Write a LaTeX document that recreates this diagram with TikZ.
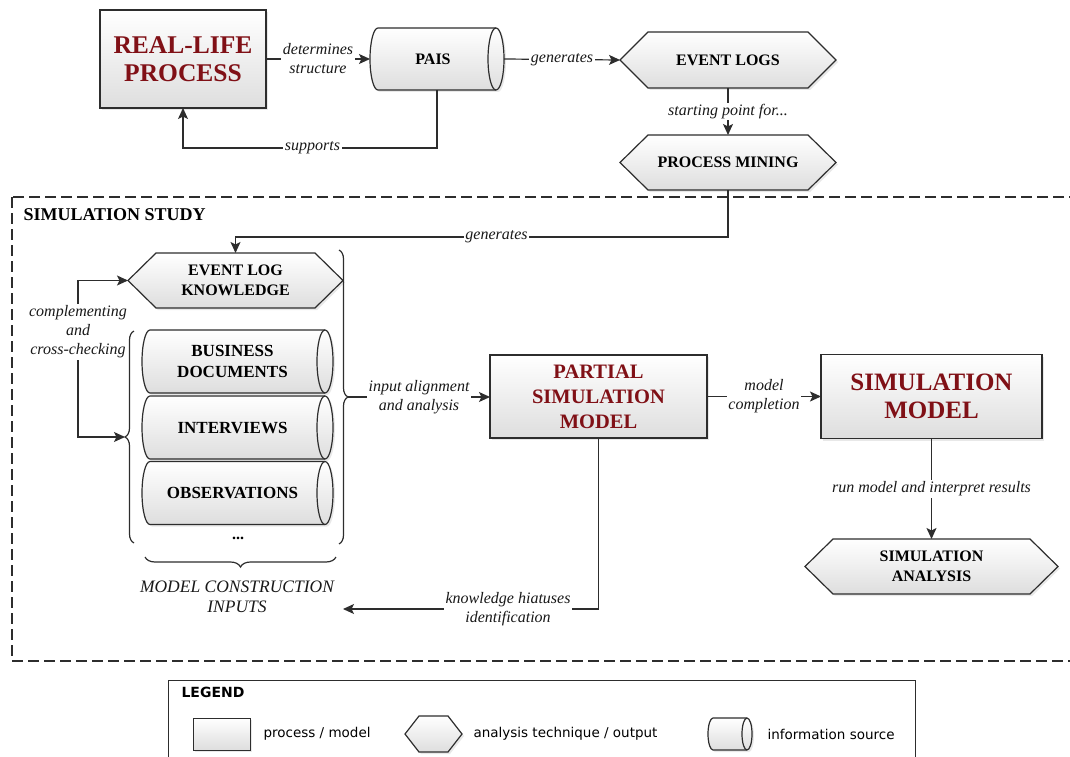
\documentclass[tikz,border=0pt]{standalone}
\usepackage{fontspec}
\setmainfont{Liberation Serif}
\newfontfamily\legendfont{DejaVu Sans}
\usetikzlibrary{arrows.meta,decorations.pathreplacing,shadows,backgrounds}
\definecolor{dred}{RGB}{128,16,22}
\definecolor{ln}{RGB}{45,45,45}
\tikzset{
 fillsh/.style={top color=white, bottom color=black!13, drop shadow={opacity=0.18, shadow xshift=2pt, shadow yshift=-2pt}},
 bx/.style={draw=ln, line width=1.2pt, fillsh, inner sep=0pt, outer sep=0pt, align=center},
 anch/.style={inner sep=0pt, outer sep=0pt, align=center},
 outl/.style={draw=ln, line width=1.2pt, fillsh},
 con/.style={draw=ln, line width=1.2pt},
 tip/.tip={Stealth[length=11pt,width=10pt,inset=2.5pt]},
 arr/.style={con, -tip},
 lbl/.style={fill=white, inner sep=1.5pt, align=center, text=black!90, font=\fontsize{16}{19}\selectfont\itshape},
 hexf/.style={font=\fontsize{16}{20}\selectfont\bfseries},
 cylf/.style={font=\fontsize{17}{21}\selectfont\bfseries},
 legt/.style={font=\legendfont\fontsize{13.5}{16}\selectfont, anchor=west},
}
\newcommand\hexpath[2]{\path[outl] (#1.west) -- ([xshift=#2]#1.north west) -- ([xshift=-#2]#1.north east) -- (#1.east) -- ([xshift=-#2]#1.south east) -- ([xshift=#2]#1.south west) -- cycle;}
\newcommand\cylpath[3]{\path[outl] ([xshift=#2]#1.north west) -- ([xshift=-#2]#1.north east) arc[start angle=90,end angle=-90,x radius=#2,y radius=#3] -- ([xshift=#2]#1.south west) arc[start angle=270,end angle=90,x radius=#2,y radius=#3] -- cycle;
 \draw[con] ([xshift=-#2]#1.north east) arc[start angle=90,end angle=270,x radius=#2,y radius=#3];}
\begin{document}
\begin{tikzpicture}[x=1pt,y=-1pt]
\useasboundingbox (0,0) rectangle (1070,757);
\clip (0,0) rectangle (1070,757);
% ---- nodes
\node[bx, minimum width=166pt, minimum height=98pt, text=dred, font=\fontsize{25.5}{28}\selectfont\bfseries] (rlp) at (183,59) {REAL-LIFE\\PROCESS};
\node[anch, minimum width=134pt, minimum height=62pt, font=\fontsize{16}{19}\selectfont\bfseries] (pais) at (437,59) {\hspace*{-8pt}PAIS};
\node[anch, hexf, minimum width=216pt, minimum height=56pt] (el) at (728,60) {EVENT LOGS};
\node[anch, hexf, minimum width=216pt, minimum height=55pt] (pm) at (728,162.5) {PROCESS MINING};
\node[anch, hexf, minimum width=215pt, minimum height=55pt] (elk) at (235.5,280.5) {EVENT LOG\\KNOWLEDGE};
\node[anch, cylf, minimum width=191pt, minimum height=63pt] (bd) at (237.5,361.5) {\hspace*{-10pt}BUSINESS\\\hspace*{-10pt}DOCUMENTS};
\node[anch, cylf, minimum width=191pt, minimum height=63pt] (iv) at (237.5,427.5) {\hspace*{-10pt}INTERVIEWS};
\node[anch, cylf, minimum width=191pt, minimum height=63pt] (ob) at (237.5,493) {\hspace*{-10pt}OBSERVATIONS};
\node[font=\fontsize{16}{19}\selectfont\bfseries] (dots) at (238,538) {...};
\node[font=\fontsize{17.5}{20}\selectfont\itshape, align=center, text=black!90] (mci) at (237,597) {MODEL CONSTRUCTION\\INPUTS};
\node[bx, minimum width=217pt, minimum height=83pt, text=dred, font=\fontsize{20.5}{25}\selectfont\bfseries] (psm) at (598.5,396.5) {PARTIAL\\SIMULATION\\MODEL};
\node[bx, minimum width=221pt, minimum height=84pt, text=dred, font=\fontsize{25}{28}\selectfont\bfseries] (sm) at (931.5,396.5) {SIMULATION\\MODEL};
\node[anch, hexf, minimum width=253pt, minimum height=55pt] (sa) at (931.5,566.5) {SIMULATION\\ANALYSIS};
% ---- legend
\draw[con, line width=1pt] (168,680) rectangle (915,790);
\node[font=\legendfont\fontsize{14}{16}\selectfont\bfseries, anchor=west] (legtitle) at (178,692) {LEGEND};
\node[bx, line width=1pt, minimum width=57pt, minimum height=32pt] (lrect) at (221.5,734) {};
\node[legt] (lt1) at (260,734) {process / model};
\node[anch, minimum width=57pt, minimum height=36pt] (lhex) at (433.5,734) {};
\node[legt] (lt2) at (470,734) {analysis technique / output};
\node[anch, minimum width=44pt, minimum height=32pt] (lcyl) at (730,734) {};
\node[legt] (lt3) at (764,734) {information source};
% ---- shape outlines
\begin{scope}[on background layer]
\cylpath{pais}{8pt}{31pt}
\hexpath{el}{28pt}
\hexpath{pm}{28pt}
\hexpath{elk}{28pt}
\cylpath{bd}{8pt}{31.5pt}
\cylpath{iv}{8pt}{31.5pt}
\cylpath{ob}{8pt}{31.5pt}
\hexpath{sa}{28pt}
\hexpath{lhex}{14pt}
\cylpath{lcyl}{5pt}{16pt}
\end{scope}
% ---- simulation study frame
\draw[con, dash pattern=on 11pt off 5pt] (12,197) rectangle (1090,661);
\node[font=\fontsize{18}{21}\selectfont\bfseries, anchor=west] (sst) at (20,215) {SIMULATION STUDY};
% ---- coordinates
\coordinate (rtip) at (348,397);
\coordinate (ltip) at (125,437);
\coordinate (kh) at (343,609);
% ---- connectors
\draw[arr] (rlp.east) -- node[lbl]{determines\\structure} (pais.west);
\draw[arr] (pais.south) -- ++(0,58) -| node[lbl, pos=0.245]{supports} (rlp.south);
\draw[arr] (pais.east) -- node[lbl]{generates} (el.west);
\draw[arr] (el.south) -- node[lbl]{starting point for...} (pm.north);
\draw[arr] (pm.south) -- ++(0,47) -| node[lbl, pos=0.235]{generates} (elk.north);
\draw[con, tip-tip] (elk.west) -- (78,280.5) -- node[lbl, pos=0.33]{complementing\\and\\cross-checking} (78,437) -- (ltip);
\draw[arr] (rtip) -- node[lbl]{input alignment\\and analysis} (rtip -| psm.west);
\draw[arr] (psm.east) -- node[lbl]{model\\completion} (psm.east -| sm.west);
\draw[arr] (sm.south) -- node[lbl]{run model and interpret results} (sa.north);
\draw[arr] (psm.south) -- (psm.south |- kh) -- node[lbl, pos=0.354]{knowledge hiatuses\\identification} (kh);
% ---- braces
\draw[con, decorate, decoration={brace, amplitude=9pt}] (339,250) -- (339,544);
\draw[con, decorate, decoration={brace, amplitude=9pt}] (134,543) -- (134,331);
\draw[con, decorate, decoration={brace, amplitude=10pt}] (336,557) -- (145,557);
\end{tikzpicture}
\end{document}
